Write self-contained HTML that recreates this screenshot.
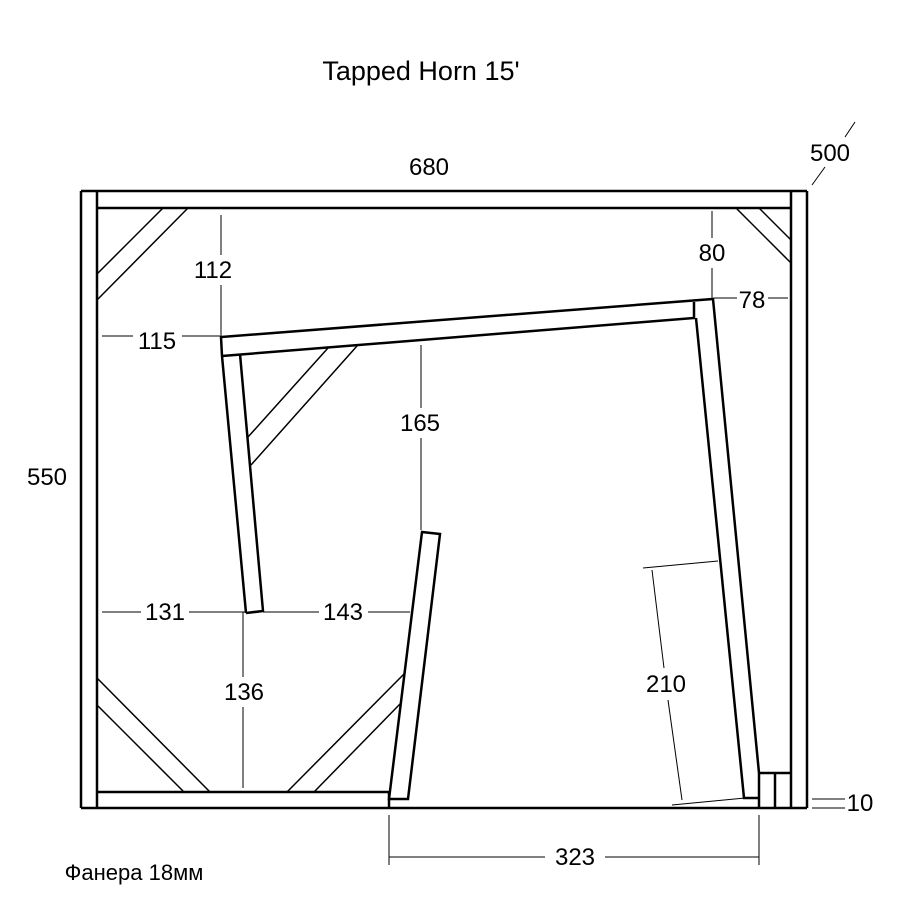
<!DOCTYPE html>
<html><head><meta charset="utf-8"><style>html,body{margin:0;padding:0;background:#fff}svg{display:block}text{font-family:"Liberation Sans",Arial,sans-serif;fill:#000}</style></head><body>
<svg width="916" height="903" viewBox="0 0 916 903" xmlns="http://www.w3.org/2000/svg">
<rect width="916" height="903" fill="#fff"/>
<g stroke="#000" stroke-width="2.5" fill="none">
<line x1="81" y1="191" x2="807" y2="191"/>
<line x1="97" y1="208" x2="791" y2="208"/>
<line x1="81" y1="191" x2="81" y2="808"/>
<line x1="97" y1="191" x2="97" y2="808"/>
<line x1="791" y1="191" x2="791" y2="808"/>
<line x1="807" y1="191" x2="807" y2="808"/>
<line x1="81" y1="808" x2="807" y2="808"/>
<line x1="97" y1="792" x2="389" y2="792"/>
<line x1="389" y1="792" x2="389" y2="808"/>
<line x1="759" y1="773" x2="791" y2="773"/>
<line x1="759" y1="773" x2="759" y2="808"/>
<line x1="775" y1="773" x2="775" y2="808"/>
<polyline points="246,613 222,356 221,337 713,299 759,773"/>
<polyline points="246,613 263,611 240,354"/>
<polyline points="222,356 694,318 694,302"/>
<polyline points="696,318 744,798 759,798"/>
<polygon points="422,532 440,534 408,799 389,799"/>
</g>
<g stroke="#000" stroke-width="1.5" fill="none">
<line x1="97" y1="274" x2="163" y2="208"/>
<line x1="97" y1="300" x2="188" y2="208"/>
<line x1="248" y1="437" x2="328" y2="348"/>
<line x1="251" y1="465" x2="357" y2="346"/>
<line x1="736" y1="208" x2="791" y2="263"/>
<line x1="759" y1="208" x2="791" y2="240"/>
<line x1="97" y1="678" x2="210" y2="792"/>
<line x1="97" y1="705" x2="184" y2="792"/>
<line x1="287" y1="792" x2="404" y2="674"/>
<line x1="314" y1="792" x2="400" y2="704"/>
</g>
<g stroke="#000" stroke-width="1" fill="none">
<line x1="221" y1="215" x2="221" y2="255"/><line x1="221" y1="285" x2="221" y2="336"/>
<line x1="102" y1="336" x2="133" y2="336"/><line x1="182" y1="336" x2="220" y2="336"/>
<line x1="421" y1="345" x2="421" y2="408"/><line x1="421" y1="438" x2="421" y2="530"/>
<line x1="712" y1="211" x2="712" y2="238"/><line x1="712" y1="268" x2="712" y2="298"/>
<line x1="714" y1="298" x2="737" y2="298"/><line x1="768" y1="298" x2="788" y2="298"/>
<line x1="102" y1="612" x2="141" y2="612"/><line x1="189" y1="612" x2="245" y2="612"/>
<line x1="263" y1="612" x2="319" y2="612"/><line x1="368" y1="612" x2="410" y2="612"/>
<line x1="243" y1="612" x2="243" y2="677"/><line x1="243" y1="707" x2="243" y2="788"/>
<line x1="643" y1="568" x2="718" y2="561"/><line x1="672" y1="805" x2="745" y2="798"/>
<line x1="652" y1="570" x2="664" y2="668"/><line x1="668" y1="700" x2="682" y2="800"/>
<line x1="389" y1="815" x2="389" y2="865"/><line x1="759" y1="815" x2="759" y2="865"/>
<line x1="389" y1="857" x2="545" y2="857"/><line x1="605" y1="857" x2="759" y2="857"/>
<line x1="812" y1="799" x2="845" y2="799"/><line x1="812" y1="808" x2="845" y2="808"/>
<line x1="812" y1="185" x2="825" y2="167"/><line x1="845" y1="137" x2="855" y2="122"/>
</g>
<g font-size="24" text-anchor="middle">
<text x="421" y="80" font-size="27">Tapped Horn 15'</text>
<text x="429" y="175">680</text>
<text x="830" y="161">500</text>
<text x="47" y="485">550</text>
<text x="213" y="278">112</text>
<text x="157" y="349">115</text>
<text x="420" y="431">165</text>
<text x="712" y="261">80</text>
<text x="752" y="308">78</text>
<text x="165" y="620">131</text>
<text x="343" y="620">143</text>
<text x="244" y="700">136</text>
<text x="666" y="692">210</text>
<text x="575" y="865">323</text>
<text x="860" y="811">10</text>
<text x="134" y="880" font-size="22">Фанера 18мм</text>
</g>
</svg>
</body></html>
